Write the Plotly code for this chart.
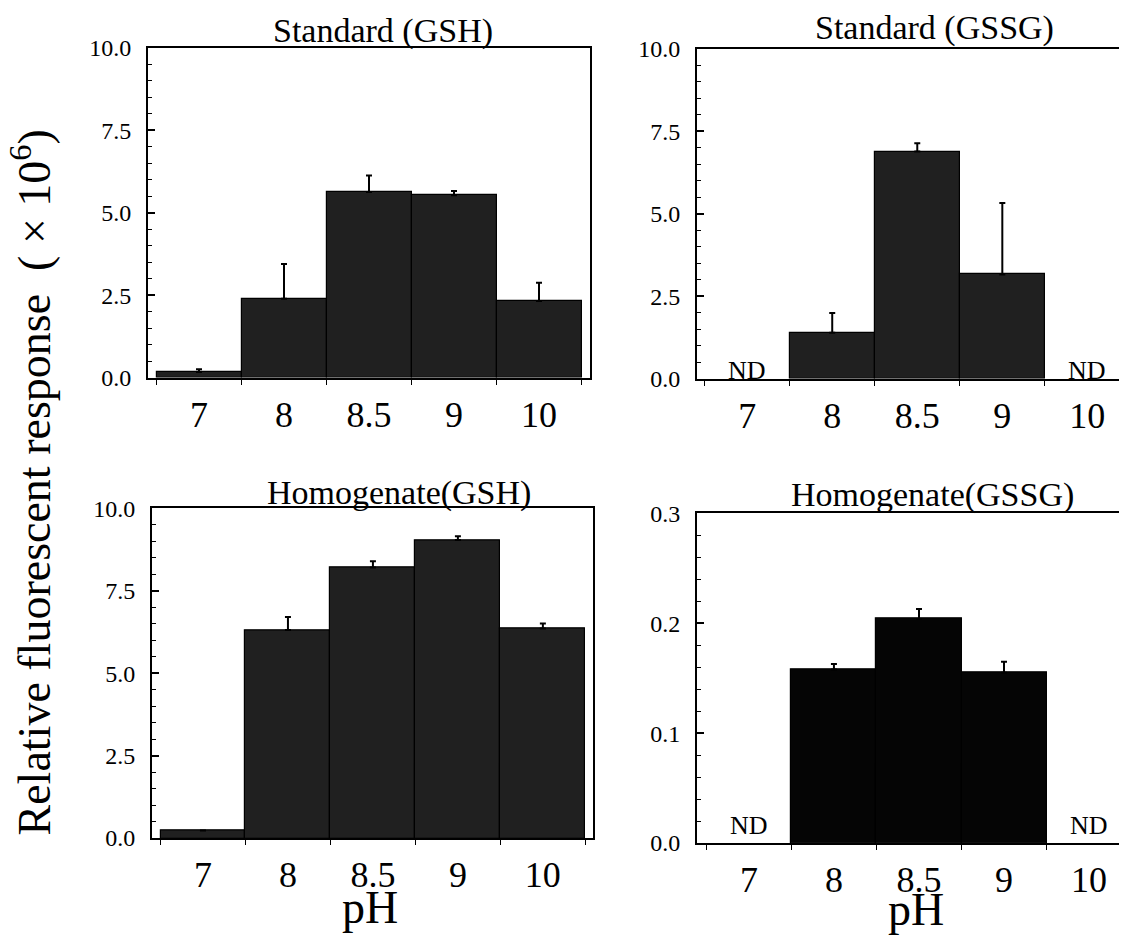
import plotly.graph_objects as go

# ---------------- data ----------------
ph_labels = ["7", "8", "8.5", "9", "10"]

std_gsh = [0.17, 2.39, 5.63, 5.53, 2.32]
std_gsh_err = [0.08, 1.06, 0.50, 0.13, 0.56]

std_gssg = [None, 1.39, 6.89, 3.16, None]
std_gssg_err = [0, 0.60, 0.25, 2.17, 0]

hom_gsh = [0.23, 6.31, 8.21, 9.04, 6.36]
hom_gsh_err = [0, 0.40, 0.19, 0.12, 0.15]

hom_gssg = [None, 0.158, 0.204, 0.155, None]
hom_gssg_err = [0, 0.005, 0.009, 0.010, 0]

panel_titles = ["Standard (GSH)", "Standard (GSSG)", "Homogenate(GSH)", "Homogenate(GSSG)"]
y_title = "Relative fluorescent response  ( × 10<sup>6</sup>)"
x_title = "pH"
nd_text = "ND"

# ---------------- layout constants ----------------
W, H = 1127, 942
OX = 8                      # horizontal page offset
SY, OY = 0.9735, 20.0       # observed vertical mapping of the page
FONT = "Liberation Serif"
xpos = list(range(len(ph_labels)))


def fx(x):
    return (x - OX) / W


def fy(y):
    return 1 - (y - OY) / (SY * H)


def px_x(a, b):
    return [fx(a), min(1.0, fx(b))]


def px_y(top, bottom):
    return [fy(bottom), fy(top)]


panels = [
    dict(vals=std_gsh, err=std_gsh_err, color="#202020",
         xd=px_x(148, 590), yd=px_y(47, 377), xr=[-0.6, 4.6], yr=[0, 10],
         dt=2.5, mdt=0.5, full=True),
    dict(vals=std_gssg, err=std_gssg_err, color="#202020",
         xd=px_x(697, 1135), yd=px_y(48, 378), xr=[-0.59, 4.56], yr=[0, 10],
         dt=2.5, mdt=0.5, full=False),
    dict(vals=hom_gsh, err=hom_gsh_err, color="#202020",
         xd=px_x(152, 593), yd=px_y(508, 838), xr=[-0.6, 4.59], yr=[0, 10],
         dt=2.5, mdt=0.5, full=True),
    dict(vals=hom_gssg, err=hom_gssg_err, color="#050505",
         xd=px_x(697, 1135), yd=px_y(513, 843), xr=[-0.61, 4.54], yr=[0, 0.3],
         dt=0.1, mdt=0.02, full=False),
]

fig = go.Figure()
layout = dict(
    width=W, height=H,
    margin=dict(l=0, r=0, t=0, b=0),
    paper_bgcolor="white", plot_bgcolor="white",
    showlegend=False,
    font=dict(family=FONT, color="black"),
    bargap=0,
)

for i, p in enumerate(panels):
    n = "" if i == 0 else str(i + 1)
    fig.add_trace(go.Bar(
        x=xpos, y=p["vals"], width=1.0,
        marker=dict(color=p["color"], line=dict(color="black", width=1.2)),
        error_y=dict(type="data", symmetric=False, array=p["err"],
                     arrayminus=[0] * len(p["err"]),
                     color="black", thickness=2, width=3),
        xaxis="x" + n, yaxis="y" + n,
    ))
    layout["xaxis" + n] = dict(
        domain=p["xd"], range=p["xr"], anchor="y" + n,
        tickmode="array", tickvals=xpos, ticktext=ph_labels,
        ticks="", tickfont=dict(family=FONT, size=36, color="black"),
        ticklabelstandoff=4,
        minor=dict(tick0=0.5, dtick=1, ticks="outside", ticklen=5,
                   tickcolor="black", tickwidth=1),
        showline=True, linecolor="black", linewidth=2,
        mirror=True, showgrid=False, zeroline=False, fixedrange=True,
    )
    layout["yaxis" + n] = dict(
        domain=p["yd"], range=p["yr"], anchor="x" + n,
        dtick=p["dt"], tick0=0, tickformat=".1f",
        ticks="inside", ticklen=7, tickwidth=2, tickcolor="black",
        minor=dict(dtick=p["mdt"], ticks="inside", ticklen=4,
                   tickcolor="black", tickwidth=1),
        tickfont=dict(family=FONT, size=24, color="black"),
        ticklabelstandoff=10,
        showline=True, linecolor="black", linewidth=2,
        mirror=True if p["full"] else False,
        showgrid=False, zeroline=False, fixedrange=True,
    )

annotations = []
title_pos = [(383, 30), (934, 27), (399, 493), (932, 495)]
for t, (cx, cy) in zip(panel_titles, title_pos):
    annotations.append(dict(text=t, xref="paper", yref="paper",
                            x=fx(cx), y=fy(cy), xanchor="center", yanchor="middle",
                            showarrow=False, font=dict(family=FONT, size=34, color="black")))

# ND markers for not-detected values
for i, p in enumerate(panels):
    n = "" if i == 0 else str(i + 1)
    for j, v in enumerate(p["vals"]):
        if v is None:
            annotations.append(dict(text=nd_text, xref="x" + n, yref="y" + n,
                                    x=xpos[j], y=0, xanchor="center", yanchor="bottom",
                                    yshift=-8 if i == 1 else 1,
                                    showarrow=False,
                                    font=dict(family=FONT, size=26, color="black")))

# pH axis titles under bottom panels
for cx, cy in [(370, 908), (916, 910)]:
    annotations.append(dict(text=x_title, xref="paper", yref="paper",
                            x=fx(cx), y=fy(cy), xanchor="center", yanchor="middle",
                            showarrow=False, font=dict(family=FONT, size=46, color="black")))

# shared y title
annotations.append(dict(text=y_title, xref="paper", yref="paper",
                        x=fx(31), y=fy(482), xanchor="center", yanchor="middle",
                        textangle=-90, showarrow=False,
                        font=dict(family=FONT, size=46, color="black")))

layout["annotations"] = annotations
fig.update_layout(**layout)
fig.write_html("out.html")
